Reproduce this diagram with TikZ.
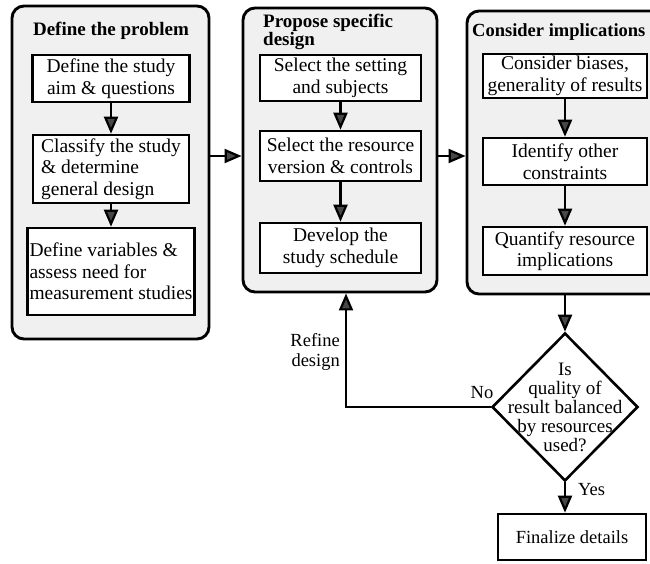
\documentclass[tikz,border=0pt]{standalone}
\usepackage{fontspec}
\setmainfont{Liberation Serif}
\usetikzlibrary{arrows.meta,shapes.geometric,calc}

\begin{document}
\begin{tikzpicture}[x=1pt,y=-1pt,
  panel/.style={draw, line width=2.9pt, rounded corners=12pt, fill=black!6},
  stepbox/.style={draw, line width=2.6pt, fill=white, inner sep=2pt,
    font=\fontsize{19.5}{21.5}\selectfont},
  title/.style={inner sep=0pt, font=\fontsize{19}{18}\selectfont\bfseries},
  lbl/.style={inner sep=0pt, font=\fontsize{18.5}{20}\selectfont},
  arr/.style={line width=2.2pt, -{Triangle[length=17pt,width=14pt,fill=black!72]}},
  decision/.style={diamond, draw, line width=2.6pt, fill=white,
    minimum width=146pt, minimum height=148pt, inner sep=0pt}
]
\useasboundingbox (0,0) rectangle (650,563);
\clip (0,0) rectangle (650,563);

% three stage panels
\node[panel, minimum width=197pt, minimum height=333pt] (p1) at (110.5,172.5) {};
\node[panel, minimum width=194pt, minimum height=284pt] (p2) at (340,150) {};
\node[panel, minimum width=203pt, minimum height=283pt] (p3) at (568.5,152.5) {};

% panel titles
\node[title] (t1) at (111,31) {Define the problem};
\node[title, anchor=west, align=left] (t2) at (263,32) {Propose specific\\design};
\node[title, anchor=west, font=\fontsize{18.5}{18}\selectfont\bfseries] (t3) at (472,32) {Consider implications};

% stage 1
\node[stepbox, minimum width=157pt, minimum height=47pt, align=center] (b11) at (111,78.5)
  {Define the study\\aim \& questions};
\node[stepbox, minimum width=156pt, minimum height=68pt, align=left] (b12) at (111,169)
  {Classify the study\\\& determine\\general design};
\node[stepbox, minimum width=166pt, minimum height=87pt, align=left] (b13) at (111,271.5)
  {Define variables \&\\assess need for\\measurement studies};

% stage 2
\node[stepbox, minimum width=161pt, minimum height=46pt, align=center] (b21) at (340.5,78)
  {Select the setting\\and subjects};
\node[stepbox, minimum width=161pt, minimum height=50pt, align=center] (b22) at (340.5,156)
  {Select the resource\\version \& controls};
\node[stepbox, minimum width=161pt, minimum height=50pt, align=center] (b23) at (340.5,248)
  {Develop the\\study schedule};

% stage 3
\node[stepbox, minimum width=164pt, minimum height=44pt, align=center] (b31) at (565,76)
  {Consider biases,\\generality of results};
\node[stepbox, minimum width=164pt, minimum height=47pt, align=center] (b32) at (565,161.5)
  {Identify other\\constraints};
\node[stepbox, minimum width=164pt, minimum height=48pt, align=center] (b33) at (565,251)
  {Quantify resource\\implications};

% decision and final step
\node[decision] (q) at (565,407) {};
\node[inner sep=0pt, align=center, font=\fontsize{19}{19}\selectfont] (qt) at (q.center)
  {Is\\quality of\\result balanced\\by resources\\used?};
\node[stepbox, font=\fontsize{18.5}{20}\selectfont, minimum width=148pt, minimum height=46pt]
  (fin) at (572,537) {Finalize details};

% flow inside panels
\draw[arr] (b11) -- (b12);
\draw[arr] (b12) -- (b13);
\draw[arr] (b21) -- (b22);
\draw[arr] (b22) -- (b23);
\draw[arr] (b31) -- (b32);
\draw[arr] (b32) -- (b33);

% flow between panels
\draw[arr] (p1.east |- b22.west) -- (p2.west |- b22.west);
\draw[arr] (p2.east |- b22.east) -- (p3.west |- b22.east);
\draw[arr] (p3.south -| q.north) -- (q.north);
\draw[arr] (q.south) -- (q.south |- fin.north);
\coordinate (back) at ($(p2.south)+(6,0)$);
\draw[arr] (q.west) -| (back);

% connector labels
\node[lbl] (no) at (482,393) {No};
\node[lbl, anchor=west] (yes) at (578,490) {Yes};
\node[lbl, align=right, anchor=east] (refine) at (340,352) {Refine\\design};
\end{tikzpicture}
\end{document}
